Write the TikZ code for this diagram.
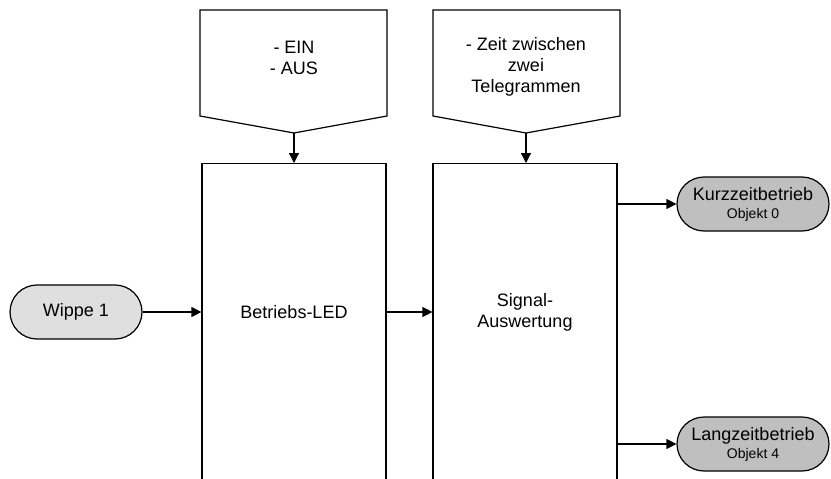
\documentclass[tikz,border=0pt]{standalone}
\usepackage{fontspec}
\setmainfont{Liberation Sans}
\usepackage{tikz}
\usetikzlibrary{arrows.meta,shapes.misc}

\begin{document}
\begin{tikzpicture}[x=1pt, y=-1pt, line width=1.2pt,
    every node/.style={font=\fontsize{18}{21}\selectfont, align=center},
    blk/.style={draw, rectangle, anchor=north, minimum width=184pt, minimum height=340pt},
    pill/.style={draw, rounded rectangle, minimum width=152pt, minimum height=54pt, inner sep=0pt, fill=gray!50},
    pfeil/.style={-{Triangle[length=10pt,width=10pt]}}]
    \useasboundingbox (0,0) rectangle (831,479);
    \clip (0,0) rectangle (831,479);

    % Parameterfelder
    \draw (200,10) -- (387,10) -- (387,116) -- (294,133) coordinate (spitzeA) -- (200,116) -- cycle;
    \node (einaus) at (294,58) {- EIN\\- AUS};
    \draw (433,10) -- (620,10) -- (620,116) -- (526,133) coordinate (spitzeB) -- (433,116) -- cycle;
    \node (zeit) at (526,67) {- Zeit zwischen\\zwei\\Telegrammen};

    % Bloecke
    \node[blk] (led) at (294,163) {};
    \node (ledtext) at (294,312) {Betriebs-LED};
    \node[blk] (sig) at (525,163) {};
    \node (sigtext) at (525,312) {Signal-\\Auswertung};

    % Ein- und Ausgaenge
    \node[pill, fill=gray!25, minimum width=132pt] (wippe) at (76,312) {Wippe 1};
    \node[pill] (kurz) at (753,204) {Kurzzeitbetrieb\\[-3pt]{\fontsize{14}{16}\selectfont Objekt 0}};
    \node[pill] (lang) at (753,444) {Langzeitbetrieb\\[-3pt]{\fontsize{14}{16}\selectfont Objekt 4}};

    \draw[pfeil] (spitzeA) -- (spitzeA |- led.north);
    \draw[pfeil] (spitzeB) -- (spitzeB |- sig.north);
    \draw[pfeil] (wippe.east) -- (wippe.east -| led.west);
    \draw[pfeil] (ledtext.center -| led.east) -- (ledtext.center -| sig.west);
    \draw[pfeil] (kurz.west -| sig.east) -- (kurz.west);
    \draw[pfeil] (lang.west -| sig.east) -- (lang.west);
\end{tikzpicture}
\end{document}
